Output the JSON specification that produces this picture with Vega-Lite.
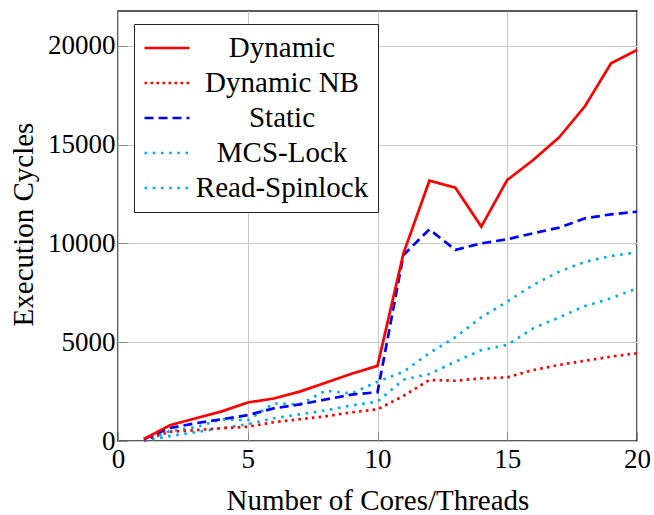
{
  "$schema": "https://vega.github.io/schema/vega-lite/v6.json",
  "width": 519,
  "height": 430,
  "autosize": "none",
  "padding": {"left": 118, "top": 11, "right": 17, "bottom": 74},
  "background": "white",
  "config": {
    "font": "Liberation Serif",
    "view": {"stroke": "#222222", "strokeWidth": 1.5},
    "axis": {
      "gridColor": "#c8c8c8",
      "gridWidth": 1,
      "domain": false,
      "tickColor": "#888888",
      "tickSize": -9,
      "labelFlush": false,
      "labelOverlap": false,
      "labelFont": "Liberation Serif",
      "labelColor": "black",
      "labelFontSize": 27,
      "titleFont": "Liberation Serif",
      "titleFontSize": 29,
      "titleFontWeight": "normal",
      "titleColor": "black"
    },
    "legend": {
      "labelFont": "Liberation Serif",
      "labelFontSize": 29,
      "labelColor": "black",
      "labelLimit": 0,
      "strokeWidth": 1
    }
  },
  "data": {
    "values": [
      {"x": 1, "series": "Dynamic", "y": 100},
      {"x": 2, "series": "Dynamic", "y": 800},
      {"x": 3, "series": "Dynamic", "y": 1150},
      {"x": 4, "series": "Dynamic", "y": 1500},
      {"x": 5, "series": "Dynamic", "y": 1950},
      {"x": 6, "series": "Dynamic", "y": 2150},
      {"x": 7, "series": "Dynamic", "y": 2500},
      {"x": 8, "series": "Dynamic", "y": 2950},
      {"x": 9, "series": "Dynamic", "y": 3400},
      {"x": 10, "series": "Dynamic", "y": 3800},
      {"x": 11, "series": "Dynamic", "y": 9500},
      {"x": 12, "series": "Dynamic", "y": 13170},
      {"x": 13, "series": "Dynamic", "y": 12820},
      {"x": 14, "series": "Dynamic", "y": 10850},
      {"x": 15, "series": "Dynamic", "y": 13210},
      {"x": 16, "series": "Dynamic", "y": 14220},
      {"x": 17, "series": "Dynamic", "y": 15370},
      {"x": 18, "series": "Dynamic", "y": 16950},
      {"x": 19, "series": "Dynamic", "y": 19110},
      {"x": 20, "series": "Dynamic", "y": 19790},
      {"x": 1, "series": "Dynamic NB", "y": 50},
      {"x": 2, "series": "Dynamic NB", "y": 470},
      {"x": 3, "series": "Dynamic NB", "y": 550},
      {"x": 4, "series": "Dynamic NB", "y": 650},
      {"x": 5, "series": "Dynamic NB", "y": 720},
      {"x": 6, "series": "Dynamic NB", "y": 950},
      {"x": 7, "series": "Dynamic NB", "y": 1100},
      {"x": 8, "series": "Dynamic NB", "y": 1250},
      {"x": 9, "series": "Dynamic NB", "y": 1450},
      {"x": 10, "series": "Dynamic NB", "y": 1600},
      {"x": 11, "series": "Dynamic NB", "y": 2280},
      {"x": 12, "series": "Dynamic NB", "y": 3090},
      {"x": 13, "series": "Dynamic NB", "y": 3050},
      {"x": 14, "series": "Dynamic NB", "y": 3170},
      {"x": 15, "series": "Dynamic NB", "y": 3220},
      {"x": 16, "series": "Dynamic NB", "y": 3590},
      {"x": 17, "series": "Dynamic NB", "y": 3850},
      {"x": 18, "series": "Dynamic NB", "y": 4060},
      {"x": 19, "series": "Dynamic NB", "y": 4270},
      {"x": 20, "series": "Dynamic NB", "y": 4440},
      {"x": 1, "series": "Static", "y": 100},
      {"x": 2, "series": "Static", "y": 660},
      {"x": 3, "series": "Static", "y": 900},
      {"x": 4, "series": "Static", "y": 1100},
      {"x": 5, "series": "Static", "y": 1310},
      {"x": 6, "series": "Static", "y": 1650},
      {"x": 7, "series": "Static", "y": 1850},
      {"x": 8, "series": "Static", "y": 2100},
      {"x": 9, "series": "Static", "y": 2350},
      {"x": 10, "series": "Static", "y": 2470},
      {"x": 11, "series": "Static", "y": 9410},
      {"x": 12, "series": "Static", "y": 10710},
      {"x": 13, "series": "Static", "y": 9670},
      {"x": 14, "series": "Static", "y": 10000},
      {"x": 15, "series": "Static", "y": 10210},
      {"x": 16, "series": "Static", "y": 10510},
      {"x": 17, "series": "Static", "y": 10800},
      {"x": 18, "series": "Static", "y": 11270},
      {"x": 19, "series": "Static", "y": 11470},
      {"x": 20, "series": "Static", "y": 11600},
      {"x": 1, "series": "MCS-Lock", "y": 0},
      {"x": 2, "series": "MCS-Lock", "y": 500},
      {"x": 3, "series": "MCS-Lock", "y": 700},
      {"x": 4, "series": "MCS-Lock", "y": 1100},
      {"x": 5, "series": "MCS-Lock", "y": 1050},
      {"x": 6, "series": "MCS-Lock", "y": 1900},
      {"x": 7, "series": "MCS-Lock", "y": 1850},
      {"x": 8, "series": "MCS-Lock", "y": 2550},
      {"x": 9, "series": "MCS-Lock", "y": 2400},
      {"x": 10, "series": "MCS-Lock", "y": 3000},
      {"x": 11, "series": "MCS-Lock", "y": 3500},
      {"x": 12, "series": "MCS-Lock", "y": 4450},
      {"x": 13, "series": "MCS-Lock", "y": 5250},
      {"x": 14, "series": "MCS-Lock", "y": 6260},
      {"x": 15, "series": "MCS-Lock", "y": 7050},
      {"x": 16, "series": "MCS-Lock", "y": 7900},
      {"x": 17, "series": "MCS-Lock", "y": 8570},
      {"x": 18, "series": "MCS-Lock", "y": 9070},
      {"x": 19, "series": "MCS-Lock", "y": 9360},
      {"x": 20, "series": "MCS-Lock", "y": 9550},
      {"x": 1, "series": "Read-Spinlock", "y": 0},
      {"x": 2, "series": "Read-Spinlock", "y": 250},
      {"x": 3, "series": "Read-Spinlock", "y": 450},
      {"x": 4, "series": "Read-Spinlock", "y": 650},
      {"x": 5, "series": "Read-Spinlock", "y": 850},
      {"x": 6, "series": "Read-Spinlock", "y": 1150},
      {"x": 7, "series": "Read-Spinlock", "y": 1350},
      {"x": 8, "series": "Read-Spinlock", "y": 1550},
      {"x": 9, "series": "Read-Spinlock", "y": 1800},
      {"x": 10, "series": "Read-Spinlock", "y": 2000},
      {"x": 11, "series": "Read-Spinlock", "y": 3100},
      {"x": 12, "series": "Read-Spinlock", "y": 3390},
      {"x": 13, "series": "Read-Spinlock", "y": 4010},
      {"x": 14, "series": "Read-Spinlock", "y": 4600},
      {"x": 15, "series": "Read-Spinlock", "y": 4860},
      {"x": 16, "series": "Read-Spinlock", "y": 5700},
      {"x": 17, "series": "Read-Spinlock", "y": 6260},
      {"x": 18, "series": "Read-Spinlock", "y": 6830},
      {"x": 19, "series": "Read-Spinlock", "y": 7220},
      {"x": 20, "series": "Read-Spinlock", "y": 7730}
    ]
  },
  "encoding": {
    "x": {
      "field": "x",
      "type": "quantitative",
      "scale": {"domain": [0, 20], "nice": false, "zero": false},
      "axis": {
        "values": [0, 5, 10, 15, 20],
        "title": "Number of Cores/Threads",
        "labelPadding": 14,
        "labelBaseline": "top",
        "titleY": 68,
        "titleBaseline": "alphabetic"
      }
    },
    "y": {
      "field": "y",
      "type": "quantitative",
      "scale": {"domain": [0, 21760], "nice": false, "zero": true},
      "axis": {
        "values": [0, 5000, 10000, 15000, 20000],
        "format": "d",
        "title": "Execution Cycles",
        "labelPadding": 12,
        "titleX": -86,
        "titleY": 213,
        "titleAngle": -90,
        "titleAlign": "center",
        "titleBaseline": "alphabetic"
      }
    },
    "color": {
      "field": "series",
      "type": "nominal",
      "scale": {
        "domain": ["Dynamic", "Dynamic NB", "Static", "MCS-Lock", "Read-Spinlock"],
        "range": ["#ff0000", "#ff0000", "#0000ff", "#00aeef", "#00aeef"]
      },
      "legend": {
        "title": null,
        "orient": "none",
        "legendX": 16,
        "legendY": 13,
        "fillColor": "white",
        "strokeColor": "#222222",
        "cornerRadius": 0,
        "padding": 9,
        "symbolType": "stroke",
        "symbolSize": 2025,
        "symbolStrokeWidth": 2.7,
        "clipHeight": 30,
        "rowPadding": 5,
        "labelAlign": "center",
        "labelBaseline": "middle",
        "labelOffset": 91,
        "encode": {
          "symbols": {
            "update": {
              "strokeDash": {"signal": "datum.value === 'Static' ? [9, 5] : datum.value === 'Dynamic NB' ? [2.6, 3.4] : datum.value === 'Dynamic' ? [1, 0] : [2.6, 5.6]"}
            }
          }
        }
      }
    }
  },
  "layer": [
    {
      "transform": [{"filter": "datum.series === 'Read-Spinlock'"}],
      "mark": {"type": "line", "strokeWidth": 2.7, "strokeCap": "butt", "strokeDash": [2.6, 5.6]}
    },
    {
      "transform": [{"filter": "datum.series === 'MCS-Lock'"}],
      "mark": {"type": "line", "strokeWidth": 2.7, "strokeCap": "butt", "strokeDash": [2.6, 5.6]}
    },
    {
      "transform": [{"filter": "datum.series === 'Dynamic NB'"}],
      "mark": {"type": "line", "strokeWidth": 2.7, "strokeCap": "butt", "strokeDash": [2.6, 4.2]}
    },
    {
      "transform": [{"filter": "datum.series === 'Static'"}],
      "mark": {"type": "line", "strokeWidth": 2.7, "strokeCap": "butt", "strokeDash": [9, 5]}
    },
    {
      "transform": [{"filter": "datum.series === 'Dynamic'"}],
      "mark": {"type": "line", "strokeWidth": 2.7, "strokeCap": "butt"}
    }
  ]
}
